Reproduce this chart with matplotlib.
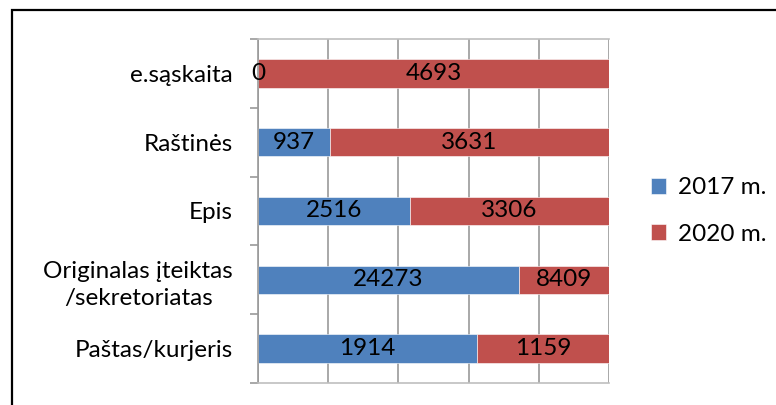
import numpy as np
import matplotlib
matplotlib.use('Agg')
import matplotlib.pyplot as plt
from matplotlib.patches import Rectangle

plt.rcParams['font.family'] = ['Lato', 'DejaVu Sans']

# data, top to bottom as in the chart
categories = ['e.sąskaita', 'Raštinės', 'Epis', 'Originalas įteiktas\n/sekretoriatas', 'Paštas/kurjeris']
v2017 = np.array([0, 937, 2516, 24273, 1914])
v2020 = np.array([4693, 3631, 3306, 8409, 1159])
series_names = ['2017 m.', '2020 m.']

blue = '#4F81BD'
red = '#C0504D'
grid_col = '#9A9A9A'
frame_col = '#BFBFBF'
fs = 17.5

total = v2017 + v2020
p17 = v2017 / total
p20 = v2020 / total
y = np.arange(len(categories))

fig = plt.figure(figsize=(7.76, 4.05), dpi=100)
ax = fig.add_axes([258/776, 1 - 383/405, (609 - 258)/776, (383 - 39)/405])

b1 = ax.barh(y, p17, height=0.41, color=blue, edgecolor='white', linewidth=0.4, label=series_names[0], zorder=2)
b2 = ax.barh(y, p20, left=p17, height=0.41, color=red, edgecolor='white', linewidth=0.4, label=series_names[1], zorder=2)

# value labels in the middle of each segment
for i in range(len(categories)):
    ax.text(p17[i] / 2, y[i], str(v2017[i]), ha='center', va='center', fontsize=fs, zorder=3)
    ax.text(p17[i] + p20[i] / 2, y[i], str(v2020[i]), ha='center', va='center', fontsize=fs, zorder=3)

ax.set_xlim(0, 1)
ax.set_ylim(len(categories) - 0.5, -0.5)
ax.set_xticks(np.linspace(0, 1, 6))
ax.xaxis.set_ticklabels([])
ax.tick_params(axis='x', length=0)
ax.grid(axis='x', color=grid_col, linewidth=1.2, zorder=0)

ax.set_yticks(np.arange(-0.5, len(categories), 1))
ax.yaxis.set_ticklabels([])
ax.tick_params(axis='y', which='major', length=6, width=1.2, color=grid_col, direction='out')
ax.set_yticks(y, minor=True)
ax.set_yticklabels(categories, minor=True, fontsize=fs, ha='right', linespacing=1.35)
ax.tick_params(axis='y', which='minor', length=0, pad=18)
for lbl in ax.get_yticklabels(minor=True):
    lbl.set_multialignment('center')

ax.spines['right'].set_visible(False)
for side in ['top', 'bottom']:
    ax.spines[side].set_color(frame_col)
    ax.spines[side].set_linewidth(1.2)
ax.spines['left'].set_color(grid_col)
ax.spines['left'].set_linewidth(1.2)

fig.legend(handles=[b1, b2], loc='center left', bbox_to_anchor=(651/776, 1 - 211/405),
           frameon=False, fontsize=fs, handlelength=0.62, handleheight=0.62,
           handletextpad=0.5, labelspacing=1.05, borderaxespad=0, borderpad=0)

# outer frame (cut off on the right and bottom)
fig.patches.append(Rectangle((12/776, -0.1), 1.2, 1 - 10/405 + 0.1, transform=fig.transFigure,
                             fill=False, edgecolor='black', linewidth=1.6))

fig.savefig('out.png', dpi=100)
